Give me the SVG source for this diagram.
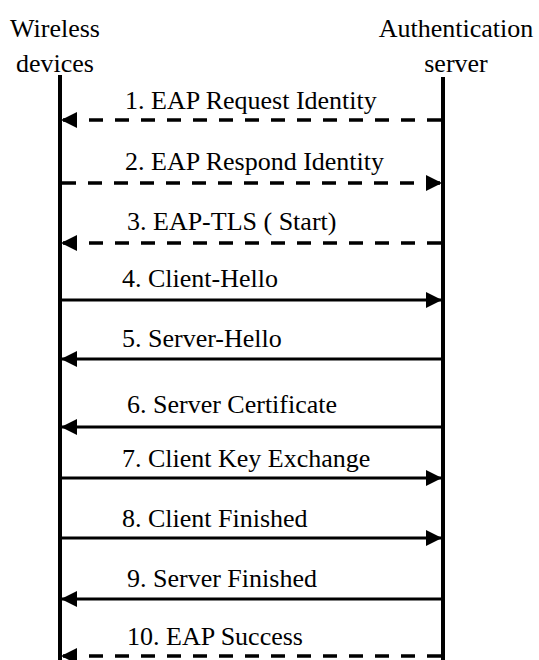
<svg xmlns="http://www.w3.org/2000/svg" width="539" height="660" viewBox="0 0 539 660">
<style>
.life{stroke:#000;stroke-width:4;fill:none}
.msg{stroke:#000;stroke-width:3;fill:none}
.dash{stroke-width:3.5;stroke-dasharray:14 12}
</style>
<defs>
<marker id="ah" viewBox="0 0 16 16" refX="15" refY="8" markerWidth="16" markerHeight="16" markerUnits="userSpaceOnUse" orient="auto">
<path d="M0,0 L16,8 L0,16 Z" fill="#000"/>
</marker>
</defs>
<rect width="539" height="660" fill="#fff"/>
<g font-family="Liberation Serif, serif" font-size="26" fill="#000">
<g id="wireless-devices" text-anchor="middle">
<text x="55" y="37">Wireless</text>
<text x="55" y="72">devices</text>
<line class="life" x1="60" y1="75" x2="60" y2="660"/>
</g>
<g id="authentication-server" text-anchor="middle">
<text x="456" y="37">Authentication</text>
<text x="456" y="72">server</text>
<line class="life" x1="443" y1="77" x2="443" y2="660"/>
</g>
<g id="connectors">
<line class="msg dash" x1="441" y1="120" x2="62" y2="120" marker-end="url(#ah)"/>
<line class="msg dash" x1="62" y1="183" x2="441" y2="183" marker-end="url(#ah)"/>
<line class="msg dash" x1="441" y1="243" x2="62" y2="243" marker-end="url(#ah)"/>
<line class="msg" x1="62" y1="300" x2="441" y2="300" marker-end="url(#ah)"/>
<line class="msg" x1="441" y1="359" x2="62" y2="359" marker-end="url(#ah)"/>
<line class="msg" x1="441" y1="427" x2="62" y2="427" marker-end="url(#ah)"/>
<line class="msg" x1="62" y1="478" x2="441" y2="478" marker-end="url(#ah)"/>
<line class="msg" x1="62" y1="538" x2="441" y2="538" marker-end="url(#ah)"/>
<line class="msg" x1="441" y1="599" x2="62" y2="599" marker-end="url(#ah)"/>
<line class="msg dash" x1="441" y1="656" x2="62" y2="656" marker-end="url(#ah)"/>
</g>
<g id="labels">
<text x="125" y="109">1. EAP Request Identity</text>
<text x="125" y="170">2. EAP Respond Identity</text>
<text x="127" y="230">3. EAP-TLS ( Start)</text>
<text x="122" y="287">4. Client-Hello</text>
<text x="122" y="347">5. Server-Hello</text>
<text x="127" y="413">6. Server Certificate</text>
<text x="122" y="467">7. Client Key Exchange</text>
<text x="122" y="527">8. Client Finished</text>
<text x="127" y="587">9. Server Finished</text>
<text x="127" y="645">10. EAP Success</text>
</g>
</g>
</svg>
